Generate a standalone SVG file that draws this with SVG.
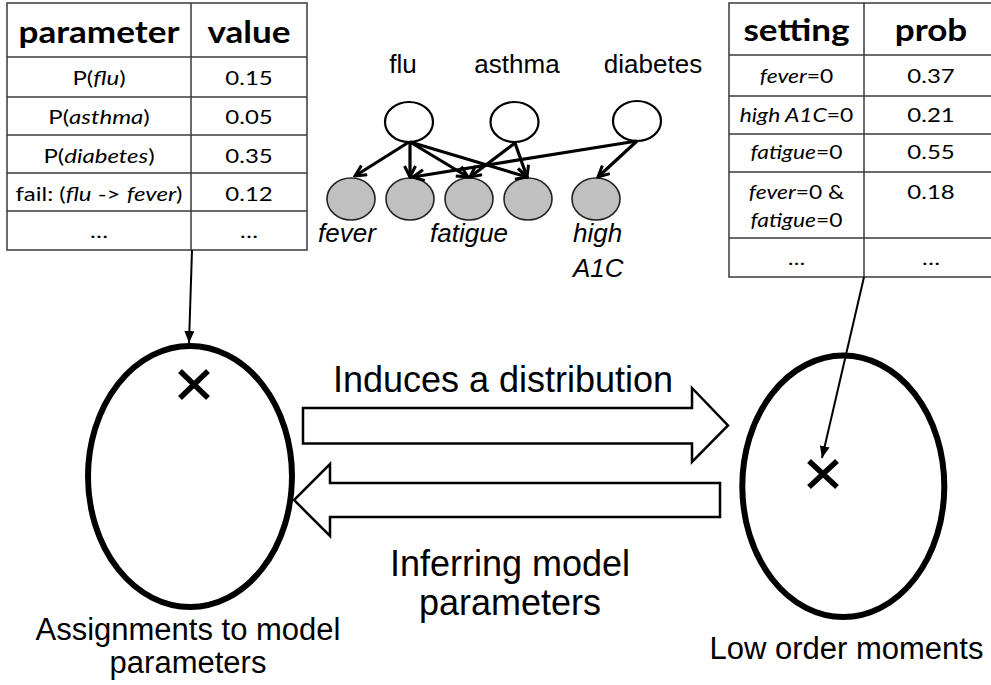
<svg xmlns="http://www.w3.org/2000/svg" width="991" height="685" viewBox="0 0 991 685">
  <style>
    .grid { fill: #fff; stroke: #3a3a3a; stroke-width: 1.5; }
    .rule { stroke: #3a3a3a; stroke-width: 1.5; }
    .th { font-family: Lato, "Liberation Sans", sans-serif; font-weight: bold; font-size: 30px; text-anchor: middle; fill: #000; }
    .td { font-family: Lato, "Liberation Sans", sans-serif; font-size: 20px; text-anchor: middle; fill: #000; }
    .it { font-style: italic; }
    .lbl { font-family: "Liberation Sans", Arial, sans-serif; font-size: 26px; fill: #000; }
    .big { font-family: "Liberation Sans", Arial, sans-serif; font-size: 36px; fill: #000; text-anchor: middle; }
    .cap { font-family: "Liberation Sans", Arial, sans-serif; font-size: 31px; fill: #000; text-anchor: middle; }
    .latent { fill: #fff; stroke: #000; stroke-width: 2.2; }
    .observed { fill: #c0c0c0; stroke: #222; stroke-width: 1.6; }
    .edge { fill: none; stroke: #000; stroke-width: 3.2; marker-end: url(#vee); }
    .pointer { fill: none; stroke: #000; stroke-width: 2; marker-end: url(#tri); }
    .space { fill: #fff; stroke: #000; stroke-width: 6; }
    .mark { stroke: #000; stroke-width: 5.5; }
    .block { fill: #fff; stroke: #000; stroke-width: 2.5; stroke-linejoin: miter; }
  </style>
  <defs>
    <marker id="vee" viewBox="0 0 14 14" refX="12" refY="7" markerWidth="14" markerHeight="14" markerUnits="userSpaceOnUse" orient="auto">
      <path d="M1,1.5 L12,7 L1,12.5" fill="none" stroke="#000" stroke-width="3"/>
    </marker>
    <marker id="tri" viewBox="0 0 12 10" refX="12" refY="5" markerWidth="12" markerHeight="10" markerUnits="userSpaceOnUse" orient="auto">
      <path d="M0,0 L12,5 L0,10 Z" fill="#000"/>
    </marker>
  </defs>

  <rect width="991" height="685" fill="#fff"/>

  <!-- parameter table -->
  <g id="table-params">
    <rect class="grid" x="7" y="3" width="300" height="247"/>
    <line class="rule" x1="7" y1="57" x2="307" y2="57"/>
    <line class="rule" x1="7" y1="97" x2="307" y2="97"/>
    <line class="rule" x1="7" y1="135" x2="307" y2="135"/>
    <line class="rule" x1="7" y1="173" x2="307" y2="173"/>
    <line class="rule" x1="7" y1="211" x2="307" y2="211"/>
    <line class="rule" x1="191" y1="3" x2="191" y2="250"/>
    <g transform="translate(99,0) scale(1.17,1)">
      <text class="th" x="0" y="43">parameter</text>
    </g>
    <g transform="translate(249,0) scale(1.17,1)">
      <text class="th" x="0" y="43">value</text>
    </g>
    <g transform="translate(99,0) scale(1.2,1)">
      <text class="td" x="0" y="85">P(<tspan class="it">flu</tspan>)</text>
      <text class="td" x="0" y="124">P(<tspan class="it">asthma</tspan>)</text>
      <text class="td" x="0" y="163">P(<tspan class="it">diabetes</tspan>)</text>
      <text class="td" x="0" y="201">fail: (<tspan class="it">flu</tspan> -&gt; <tspan class="it">fever</tspan>)</text>
      <text class="td" x="0" y="238">…</text>
    </g>
    <g transform="translate(249,0) scale(1.2,1)">
      <text class="td" x="0" y="85">0.15</text>
      <text class="td" x="0" y="124">0.05</text>
      <text class="td" x="0" y="163">0.35</text>
      <text class="td" x="0" y="201">0.12</text>
      <text class="td" x="0" y="238">…</text>
    </g>
  </g>

  <!-- moments table -->
  <g id="table-moments">
    <rect class="grid" x="729" y="3" width="269" height="274"/>
    <line class="rule" x1="729" y1="55" x2="998" y2="55"/>
    <line class="rule" x1="729" y1="96" x2="998" y2="96"/>
    <line class="rule" x1="729" y1="134" x2="998" y2="134"/>
    <line class="rule" x1="729" y1="172" x2="998" y2="172"/>
    <line class="rule" x1="729" y1="238" x2="998" y2="238"/>
    <line class="rule" x1="864" y1="3" x2="864" y2="277"/>
    <g transform="translate(796.5,0) scale(1.17,1)">
      <text class="th" x="0" y="41">setting</text>
    </g>
    <g transform="translate(931,0) scale(1.17,1)">
      <text class="th" x="0" y="41">prob</text>
    </g>
    <g transform="translate(796.5,0) scale(1.14,1)">
      <text class="td" x="0" y="83" font-size="21"><tspan class="it">fever</tspan>=0</text>
      <text class="td" x="0" y="122" font-size="21"><tspan class="it">high A1C</tspan>=0</text>
      <text class="td" x="0" y="159" font-size="21"><tspan class="it">fatigue</tspan>=0</text>
      <text class="td" x="0" y="199" font-size="21"><tspan class="it">fever</tspan>=0 &amp;</text>
      <text class="td" x="0" y="227" font-size="21"><tspan class="it">fatigue</tspan>=0</text>
      <text class="td" x="0" y="265" font-size="21">…</text>
    </g>
    <g transform="translate(931,0) scale(1.2,1)">
      <text class="td" x="0" y="83">0.37</text>
      <text class="td" x="0" y="122">0.21</text>
      <text class="td" x="0" y="159">0.55</text>
      <text class="td" x="0" y="199">0.18</text>
      <text class="td" x="0" y="265">…</text>
    </g>
  </g>

  <!-- network: latent diseases -->
  <g id="node-flu">
    <text class="lbl" x="403" y="73" text-anchor="middle">flu</text>
    <ellipse class="latent" cx="409" cy="122" rx="24" ry="20"/>
  </g>
  <g id="node-asthma">
    <text class="lbl" x="517" y="73" text-anchor="middle">asthma</text>
    <ellipse class="latent" cx="514.5" cy="122" rx="24" ry="20"/>
  </g>
  <g id="node-diabetes">
    <text class="lbl" x="653" y="73" text-anchor="middle">diabetes</text>
    <ellipse class="latent" cx="637" cy="121" rx="24" ry="20"/>
  </g>

  <!-- network: observed symptoms -->
  <g id="node-fever">
    <ellipse class="observed" cx="351" cy="199" rx="24" ry="21"/>
    <text class="lbl it" x="318" y="242">fever</text>
  </g>
  <g id="node-symptom-2">
    <ellipse class="observed" cx="410" cy="199" rx="24" ry="21"/>
  </g>
  <g id="node-fatigue">
    <ellipse class="observed" cx="469" cy="199" rx="24" ry="21"/>
    <text class="lbl it" x="430" y="242">fatigue</text>
  </g>
  <g id="node-symptom-4">
    <ellipse class="observed" cx="528" cy="199" rx="24" ry="21"/>
  </g>
  <g id="node-a1c">
    <ellipse class="observed" cx="596" cy="199" rx="24" ry="21"/>
    <text class="lbl it" x="573" y="242">high</text>
    <text class="lbl it" x="573" y="277">A1C</text>
  </g>

  <!-- parameter space and moment space -->
  <g id="space-params">
    <ellipse class="space" cx="190" cy="476.5" rx="102" ry="130.5"/>
    <line class="mark" x1="180" y1="371" x2="208" y2="398"/>
    <line class="mark" x1="208" y1="371" x2="180" y2="398"/>
    <text class="cap" x="188" y="640">Assignments to model</text>
    <text class="cap" x="188" y="673">parameters</text>
  </g>
  <g id="space-moments">
    <ellipse class="space" cx="843.3" cy="486.3" rx="101" ry="130.7"/>
    <line class="mark" x1="809" y1="461" x2="837" y2="487"/>
    <line class="mark" x1="837" y1="461" x2="809" y2="487"/>
    <text class="cap" x="846.5" y="659" font-size="30">Low order moments</text>
  </g>

  <!-- connectors -->
  <g id="connectors">
    <path class="edge" d="M409,142 L355,176"/>
    <path class="edge" d="M410,142 L410,177"/>
    <path class="edge" d="M410,142 L468,177"/>
    <path class="edge" d="M410,142 L527,177"/>
    <path class="edge" d="M515,143 L470,177"/>
    <path class="edge" d="M515,143 L527,177"/>
    <path class="edge" d="M637,141 L413,177"/>
    <path class="edge" d="M637,141 L598,177"/>

    <path class="pointer" d="M192,250 L189,343"/>
    <path class="pointer" d="M864,277 L822,458"/>

    <g id="arrow-induces">
      <polygon class="block" points="303,408 692,408 692,388 728,425.5 692,462 692,443.5 303,443.5"/>
      <text class="big" x="503" y="392">Induces a distribution</text>
    </g>
    <g id="arrow-infer">
      <polygon class="block" points="720,483 330,483 330,464 294,500 330,536 330,517 720,517"/>
      <text class="big" x="510" y="576">Inferring model</text>
      <text class="big" x="510" y="615">parameters</text>
    </g>
  </g>
</svg>
